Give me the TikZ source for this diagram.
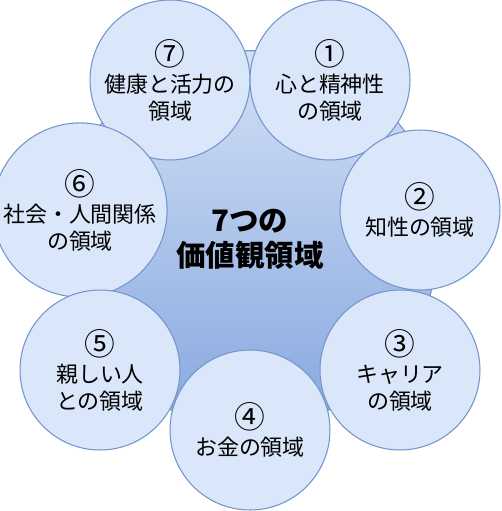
\documentclass[tikz,border=0pt]{standalone}
\usepackage{fontspec}
\setmainfont{Noto Sans CJK JP}
\usetikzlibrary{shapes.geometric}
\definecolor{ringfill}{RGB}{218,230,249}
\definecolor{ringline}{RGB}{116,148,204}
\definecolor{coretop}{RGB}{210,224,246}
\definecolor{corebot}{RGB}{130,164,221}
\newcommand{\ringno}[1]{{\fontsize{17.5}{15.4}\selectfont #1}}
\tikzset{areanode/.style={circle,draw=ringline,fill=ringfill,line width=0.6pt,minimum size=3.2cm,inner sep=0pt,align=center,font=\fontsize{12.5}{15.4}\selectfont}}

\begin{document}
\begin{tikzpicture}[x=0.02cm,y=-0.02cm]
  \useasboundingbox (0,0) rectangle (501,511);
  \node[regular polygon,regular polygon sides=7,shape border rotate=180,minimum size=8.36cm,inner sep=0pt,draw=ringline,line width=0.6pt,top color=coretop,bottom color=corebot,align=center,font=\fontsize{16.8}{20}\selectfont\bfseries] (core) at (250,239) {7つの\\価値観領域};
  \node[areanode] (c7) at (170,80) {\ringno{⑦}\\健康と活力の\\領域};
  \node[areanode] (c1) at (330,80) {\ringno{①}\\心と精神性\\の領域};
  \node[areanode] (c6) at (80,210) {\ringno{⑥}\\社会・人間関係\\の領域};
  \node[areanode] (c2) at (420,210) {\ringno{②}\\知性の領域};
  \node[areanode] (c5) at (100,370) {\ringno{⑤}\\親しい人\\との領域};
  \node[areanode] (c3) at (400,370) {\ringno{③}\\キャリア\\の領域};
  \node[areanode] (c4) at (250,430) {\ringno{④}\\お金の領域};
\end{tikzpicture}
\end{document}
